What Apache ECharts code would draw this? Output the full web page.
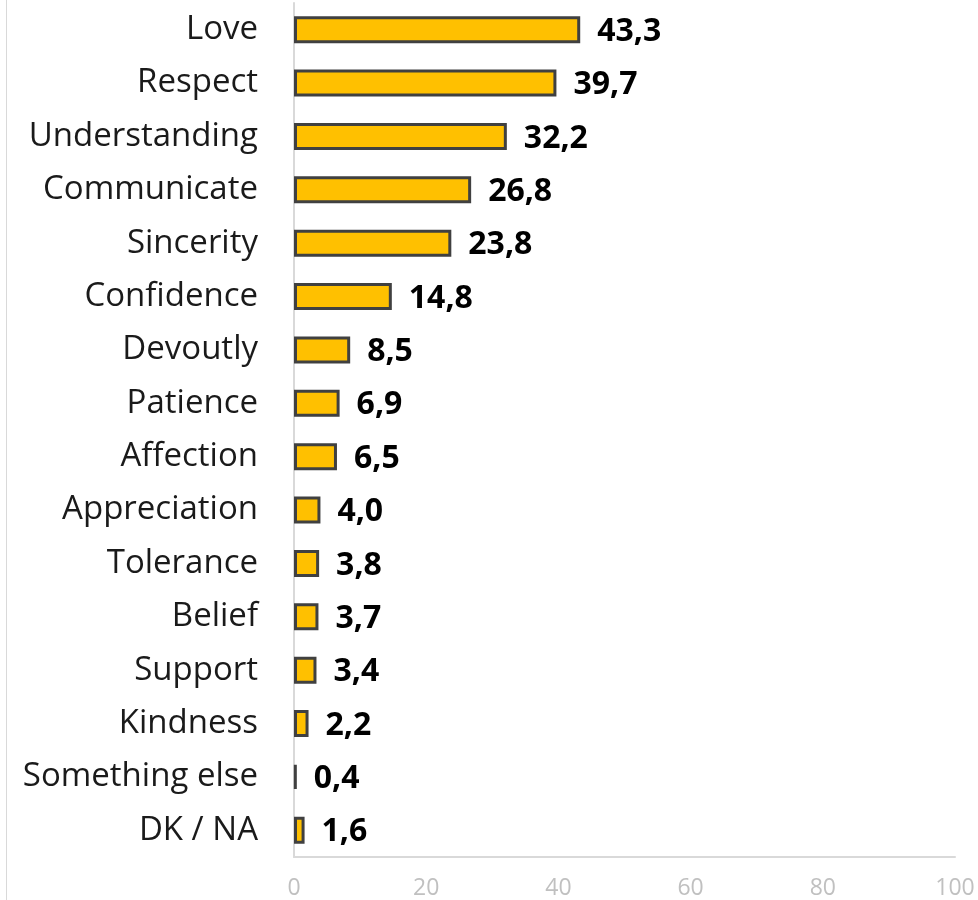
<!DOCTYPE html>
<html><head><meta charset="utf-8">
<script src="https://cdn.jsdelivr.net/npm/echarts@6/dist/echarts.min.js"></script>
<style>html,body{margin:0;padding:0;background:#fff}#c{width:978px;height:900px}</style>
</head><body><div id="c"></div>
<script>
const categories = ["Love","Respect","Understanding","Communicate","Sincerity","Confidence","Devoutly","Patience","Affection","Appreciation","Tolerance","Belief","Support","Kindness","Something else","DK / NA"];
const values = [43.3,39.7,32.2,26.8,23.8,14.8,8.5,6.9,6.5,4.0,3.8,3.7,3.4,2.2,0.4,1.6];
const xTicks = {min:0,max:100,interval:20};

const chart = echarts.init(document.getElementById('c'), null, {renderer:'canvas'});
chart.setOption({
  animation:false,
  grid:{left:294,right:23,top:3,bottom:43,containLabel:false},
  graphic:[{type:'line',shape:{x1:6.5,y1:0,x2:6.5,y2:900},style:{stroke:'#d9d9d9',lineWidth:1}}],
  xAxis:{type:'value',min:xTicks.min,max:xTicks.max,interval:xTicks.interval,
    splitLine:{show:false},
    axisLine:{show:true,lineStyle:{color:'#d9d9d9',width:2}},
    axisTick:{show:false},
    axisLabel:{color:'#c0c0c0',fontSize:23,fontFamily:'Open Sans',margin:20}},
  yAxis:{type:'category',data:categories.slice().reverse(),inverse:false,
    axisLine:{show:true,lineStyle:{color:'#d9d9d9',width:2}},
    axisTick:{show:false},
    axisLabel:{color:'#1a1a1a',fontSize:33,fontFamily:'Open Sans',margin:36,padding:[3,0,0,0]}},
  series:[{type:'bar',data:values.slice().reverse(),barWidth:27,
    itemStyle:{color:'#FFC000',borderColor:'#404040',borderWidth:3},
    label:{show:true,position:'right',distance:17,color:'#000',fontWeight:'bold',fontSize:32,fontFamily:'Open Sans',
      offset:[0,2],
      formatter:p=>p.value.toFixed(1).replace('.',',')}}]
});
</script></body></html>
